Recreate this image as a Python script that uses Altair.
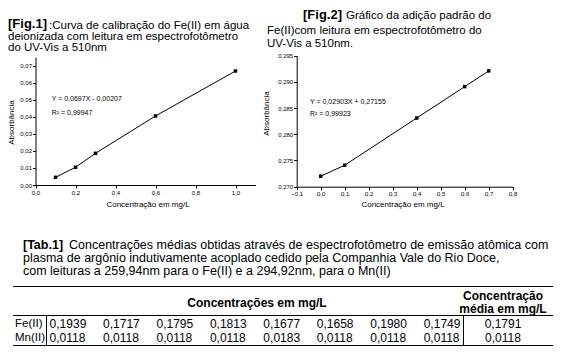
import altair as alt
import pandas as pd

FONT = "Liberation Sans"
OFF = 8
W, H = 560, 348

# ---------------- data ----------------
fig1_title = ["[Fig.1]", ":Curva de calibração do Fe(II) em água",
              " deionizada com leitura em espectrofotômetro", "do UV-Vis a 510nm"]
fig1_conc = [0.1, 0.2, 0.3, 0.6, 1.0]
fig1_abs = [0.0045, 0.0104, 0.0186, 0.0405, 0.0669]
fig1_xticks = [0.0, 0.2, 0.4, 0.6, 0.8, 1.0]
fig1_yticks = [0.00, 0.01, 0.02, 0.03, 0.04, 0.05, 0.06, 0.07]
fig1_eq = ["Y = 0,0697X - 0,00207", "R² = 0,99947"]

fig2_title = ["[Fig.2]", "Gráfico da adição padrão do",
              "Fe(II)com  leitura em espectrofotômetro do", "UV-Vis a 510nm."]
fig2_conc = [0.0, 0.1, 0.4, 0.6, 0.7]
fig2_abs = [0.2720, 0.2741, 0.2831, 0.2891, 0.2921]
fig2_xticks = [-0.1, 0.0, 0.1, 0.2, 0.3, 0.4, 0.5, 0.6, 0.7, 0.8]
fig2_yticks = [0.270, 0.275, 0.280, 0.285, 0.290, 0.295]
fig2_eq = ["Y = 0,02903X + 0,27155", "R² = 0,99923"]

x_title = "Concentração em mg/L"
y_title = "Absorbância"

tab_title = ["[Tab.1]",
             "Concentrações médias obtidas através de espectrofotômetro de emissão atômica com",
             "plasma  de argônio indutivamente acoplado  cedido pela Companhia Vale do  Rio Doce,",
             " com leituras a 259,94nm para o Fe(II)  e a 294,92nm, para o Mn(II)"]
tab_header = ["Concentrações em mg/L", "Concentração", "média em mg/L"]
elements = ["Fe(II)", "Mn(II)"]
fe_vals = [0.1939, 0.1717, 0.1795, 0.1813, 0.1677, 0.1658, 0.1980, 0.1749]
mn_vals = [0.0118, 0.0118, 0.0118, 0.0118, 0.0183, 0.0118, 0.0118, 0.0118]
averages = [0.1791, 0.0118]


def f4(v):
    return f"{v:.4f}".replace(".", ",")


def txt(s, x, y, size, weight="normal", align="left", baseline="alphabetic", angle=0):
    return alt.Chart(pd.DataFrame({"t": [s]})).mark_text(
        font=FONT, fontSize=size, fontWeight=weight, align=align,
        baseline=baseline, angle=angle, color="black"
    ).encode(text="t:N", x=alt.value(x - OFF), y=alt.value(y - OFF))


def hrule(x1, x2, y):
    return alt.Chart(pd.DataFrame({"d": [0]})).mark_rule(color="black", strokeWidth=1).encode(
        x=alt.value(x1 - OFF), x2=alt.value(x2 - OFF), y=alt.value(y - OFF))


def vrule(x, y1, y2):
    return alt.Chart(pd.DataFrame({"d": [0]})).mark_rule(color="black", strokeWidth=1).encode(
        x=alt.value(x - OFF), y=alt.value(y1 - OFF), y2=alt.value(y2 - OFF))


def lab(d):
    return f"replace(format(datum.value, '.{d}f'), '.', ',')"


axis_common = dict(domainColor="black", tickColor="black", labelColor="black",
                   labelFont=FONT, labelFontSize=6, tickSize=3, grid=False, title=None,
                   labelPadding=1, labelOverlap=False, labelFlush=False)


def plot(conc, ab, xdom, ydom, x_px, y_px, xticks, yticks, xd, yd):
    df = pd.DataFrame({"c": conc, "a": ab})
    return alt.Chart(df).mark_line(
        color="black", strokeWidth=1,
        point=alt.OverlayMarkDef(shape="square", filled=True, color="black", size=12, opacity=1)
    ).encode(
        x=alt.X("c:Q", scale=alt.Scale(domain=xdom, range=[x_px[0] - OFF, x_px[1] - OFF], nice=False, zero=False),
                axis=alt.Axis(orient="bottom", offset=(y_px[0] - OFF) - H, values=xticks,
                              labelExpr=lab(xd), **axis_common)),
        y=alt.Y("a:Q", scale=alt.Scale(domain=ydom, range=[y_px[0] - OFF, y_px[1] - OFF], nice=False, zero=False),
                axis=alt.Axis(orient="left", offset=-(x_px[0] - OFF), values=yticks,
                              labelExpr=lab(yd), **axis_common)),
    )


fig1 = plot(fig1_conc, fig1_abs, [0, 1.1], [0, 0.075], [35.5, 255.5], [185, 57.2],
            fig1_xticks, fig1_yticks, 1, 2)
fig2 = plot(fig2_conc, fig2_abs, [-0.1, 0.8], [0.270, 0.295], [296.7, 512.7], [186.7, 55.7],
            fig2_xticks, fig2_yticks, 1, 3)

layers = [fig1, fig2]

# titles of figures
layers += [
    txt(fig1_title[0], 8, 28, 13, "bold"),
    txt(fig1_title[1], 49, 29, 11.5),
    txt(fig1_title[2], 8, 39.5, 11.5),
    txt(fig1_title[3], 8, 50.5, 11.5),
    txt(fig2_title[0], 303, 18.5, 13, "bold"),
    txt(fig2_title[1], 346, 18.5, 11.5),
    txt(fig2_title[2], 267, 34, 11.5),
    txt(fig2_title[3], 267, 47, 11.5),
]
# equations
layers += [
    txt(fig1_eq[0], 51.7, 99.3, 7, baseline="middle"),
    txt(fig1_eq[1], 51.7, 112.7, 7, baseline="middle"),
    txt(fig2_eq[0], 310, 102.3, 7, baseline="middle"),
    txt(fig2_eq[1], 310, 114.3, 7, baseline="middle"),
]
# axis titles
layers += [
    txt(x_title, 148, 205, 8, align="center", baseline="middle"),
    txt(y_title, 11.7, 122.5, 8, align="center", baseline="middle", angle=270),
    txt(x_title, 403, 205, 8, align="center", baseline="middle"),
    txt(y_title, 266.7, 113.5, 8, align="center", baseline="middle", angle=270),
]
# table caption
layers += [
    txt(tab_title[0], 23, 249, 12.5, "bold"),
    txt(tab_title[1], 69, 249, 12.5),
    txt(tab_title[2], 23, 262, 12.5),
    txt(tab_title[3], 23, 275, 12.5),
]
# table header and lines
layers += [
    hrule(13, 553, 286.5),
    hrule(13, 553, 315.5),
    hrule(13, 553, 345.5),
    vrule(46.5, 315.5, 345.5),
    vrule(463.5, 315.5, 345.5),
    txt(tab_header[0], 257, 303, 12, "bold", align="center", baseline="middle"),
    txt(tab_header[1], 503, 296, 12, "bold", align="center", baseline="middle"),
    txt(tab_header[2], 503, 309, 12, "bold", align="center", baseline="middle"),
]

row_y = [323.5 - OFF, 338 - OFF]
yrow = alt.Y("el:N", scale=alt.Scale(type="point", domain=elements, range=row_y, padding=0), axis=None)

rows = []
for el, vals in zip(elements, [fe_vals, mn_vals]):
    for i, v in enumerate(vals):
        rows.append({"el": el, "col": i, "v": f4(v)})
tab_df = pd.DataFrame(rows)
table_vals = alt.Chart(tab_df).mark_text(font=FONT, fontSize=12, align="left", baseline="middle",
                                         color="black").encode(
    x=alt.X("col:Q", scale=alt.Scale(domain=[0, 7], range=[49.6 - OFF, 423.7 - OFF], nice=False, zero=False),
            axis=None),
    y=yrow, text="v:N")

avg_df = pd.DataFrame({"el": elements, "v": [f4(v) for v in averages]})
table_avg = alt.Chart(avg_df).mark_text(font=FONT, fontSize=12, align="center", baseline="middle",
                                        color="black").encode(
    x=alt.value(503 - OFF), y=yrow, text="v:N")

lab_df = pd.DataFrame({"el": elements})
table_lab = alt.Chart(lab_df).mark_text(font=FONT, fontSize=11.5, align="left", baseline="middle",
                                        color="black").encode(
    x=alt.value(15 - OFF), y=yrow, text="el:N")

layers += [table_vals, table_avg, table_lab]

chart = alt.layer(*layers).resolve_scale(x="independent", y="independent").resolve_axis(
    x="independent", y="independent"
).properties(
    width=W, height=H, autosize=alt.AutoSizeParams(type="none"), padding=0, background="white"
).configure_view(stroke=None)

chart.save("out.html", embed_options={"renderer": "svg", "actions": False})
